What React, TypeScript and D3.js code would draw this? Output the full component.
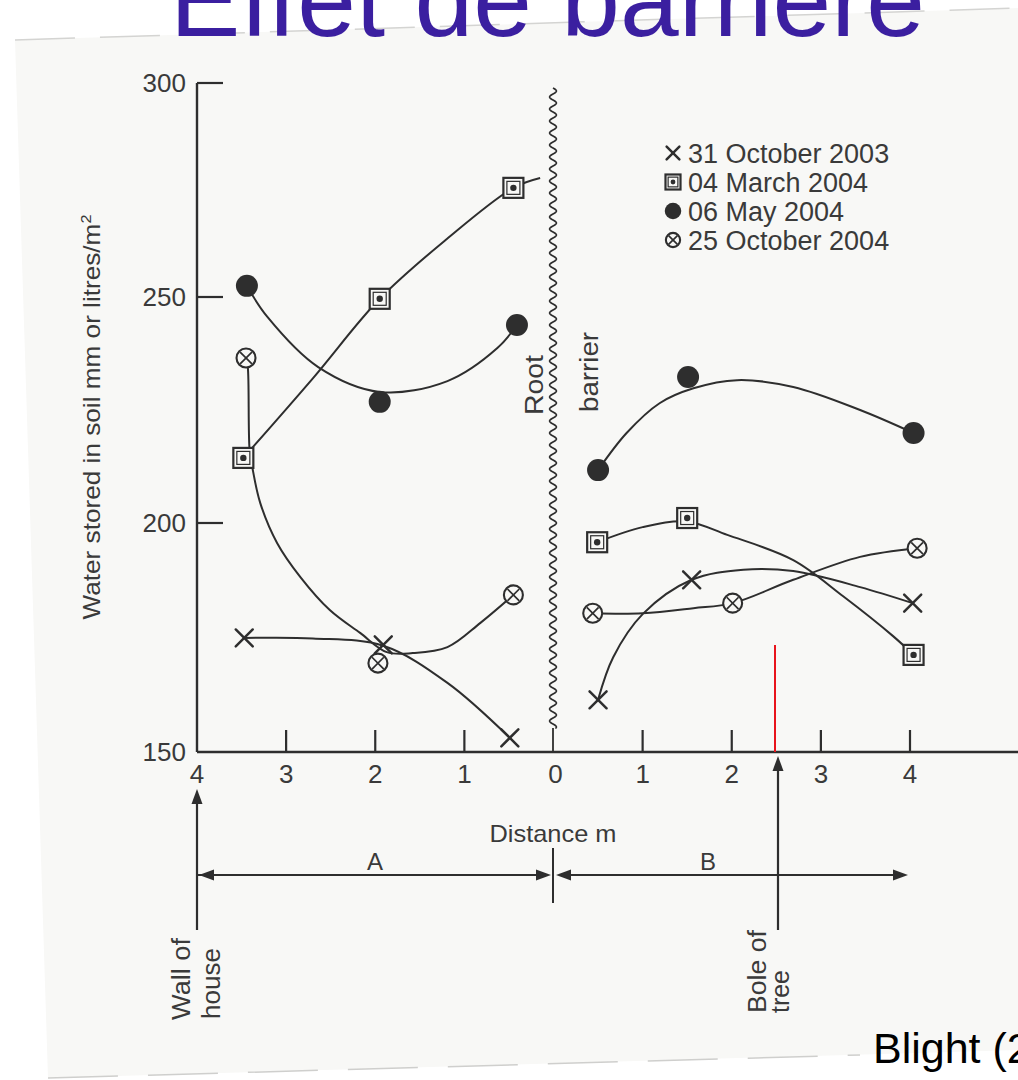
import React from 'react';
import * as d3 from 'd3';

const W = 1018;
const H = 1080;
const PAPER = '#f8f8f6';
const INK = '#2e2e2e';
const TXT = '#3a3a3a';
const FONT = '"Liberation Sans", Arial, sans-serif';

// ---- data ----
const yTicks = [300, 250, 200, 150];
const xTicksA = [4, 3, 2, 1, 0];
const xTicksB = [1, 2, 3, 4];

const legendLabels = ['31 October 2003', '04 March 2004', '06 May 2004', '25 October 2004'];
const legendSymbols = ['cross', 'square', 'circle', 'otimes'];

// measured points: [distance from root barrier (m), water stored (mm)]
const oct2003A = [[3.47, 174.9], [1.91, 173.4], [0.49, 153.1]];
const oct2003B = [[0.5, 161.4], [1.55, 187.6], [4.03, 182.5]];
const mar2004A = [[3.48, 214.4], [1.95, 249.6], [0.45, 275.5]];
const mar2004B = [[0.49, 195.8], [1.5, 201.1], [4.04, 171.2]];
const may2004A = [[3.44, 252.6], [1.95, 226.8], [0.41, 243.8]];
const may2004B = [[0.5, 211.7], [1.51, 232.3], [4.04, 219.9]];
const oct2004A = [[3.45, 236.5], [1.97, 169.4], [0.45, 184.3]];
const oct2004B = [[0.44, 180.3], [2.01, 182.5], [4.08, 194.5]];

// hand-drawn fitted curves
const oct2003AFit = [[3.47, 174.9], [2.7, 174.8], [1.91, 173.2], [1.19, 165.1], [0.49, 153.1]];
const oct2003BFit = [[0.5, 161.4], [0.67, 170.7], [1.0, 180.1], [1.55, 187.6], [2.13, 189.8], [2.69, 189.5], [3.44, 186.0], [4.03, 182.5]];
const mar2004AFit = [[3.48, 214.4], [2.7, 232.0], [1.95, 249.6], [1.2, 263.5], [0.45, 275.5], [0.15, 277.8]];
const mar2004BFit = [[0.49, 195.8], [1.0, 199.1], [1.5, 200.3], [1.95, 197.4], [2.69, 191.9], [3.25, 184.0], [3.81, 175.3], [4.04, 171.2]];
const may2004AFit = [[3.44, 252.6], [3.21, 245.6], [2.64, 234.5], [1.95, 229.0], [1.19, 231.4], [0.63, 238.7], [0.41, 243.8]];
const may2004BFit = [[0.5, 211.7], [0.82, 219.9], [1.19, 226.5], [1.57, 229.8], [2.06, 231.6], [2.69, 230.1], [3.44, 225.0], [4.04, 219.9]];
const oct2004AFit = [[3.45, 236.5], [3.43, 234.5], [3.41, 216.2], [3.38, 212.4], [3.29, 204.4], [3.1, 195.6], [2.84, 188.2], [2.51, 181.0], [2.17, 176.0], [1.87, 171.8], [1.58, 171.6], [1.19, 172.9], [0.82, 178.2], [0.45, 184.3]];
const oct2004BFit = [[0.44, 180.3], [1.0, 180.3], [1.57, 181.4], [2.01, 182.5], [2.69, 187.6], [3.44, 192.6], [4.08, 194.5]];

const seriesDefs = [
  { sym: 'cross', A: oct2003A, B: oct2003B, fitA: oct2003AFit, fitB: oct2003BFit },
  { sym: 'square', A: mar2004A, B: mar2004B, fitA: mar2004AFit, fitB: mar2004BFit },
  { sym: 'circle', A: may2004A, B: may2004B, fitA: may2004AFit, fitB: may2004BFit },
  { sym: 'otimes', A: oct2004A, B: oct2004B, fitA: oct2004AFit, fitB: oct2004BFit },
];

// ---- scales ----
const x = d3.scaleLinear().domain([-4, 4]).range([197, 910]);
const y = d3.scaleLinear().domain([150, 200, 250, 300]).range([752, 523, 297, 83]);

const lineA = d3.line<number[]>().x((d) => x(-d[0])).y((d) => y(d[1])).curve(d3.curveCatmullRom.alpha(0.5));
const lineB = d3.line<number[]>().x((d) => x(d[0])).y((d) => y(d[1])).curve(d3.curveCatmullRom.alpha(0.5));

function Marker({ type, cx, cy, s = 1 }: { type: string; cx: number; cy: number; s?: number }) {
  if (type === 'cross') {
    const a = 8.5 * s;
    return (
      <g stroke={INK} strokeWidth={2.5} strokeLinecap="round">
        <line x1={cx - a} y1={cy - a} x2={cx + a} y2={cy + a} />
        <line x1={cx - a} y1={cy + a} x2={cx + a} y2={cy - a} />
      </g>
    );
  }
  if (type === 'square') {
    const a = 10 * s;
    const b = 6.5 * s;
    return (
      <g>
        <rect x={cx - a} y={cy - a} width={2 * a} height={2 * a} fill={PAPER} stroke={INK} strokeWidth={2.2} />
        <rect x={cx - b} y={cy - b} width={2 * b} height={2 * b} fill="none" stroke={INK} strokeWidth={1.2} />
        <circle cx={cx} cy={cy} r={3.2 * s} fill={INK} />
      </g>
    );
  }
  if (type === 'circle') {
    return <circle cx={cx} cy={cy} r={11 * s} fill={INK} />;
  }
  const r = 9.5 * s;
  const k = r * 0.62;
  return (
    <g stroke={INK}>
      <circle cx={cx} cy={cy} r={r} fill={PAPER} strokeWidth={2.1} />
      <line x1={cx - k} y1={cy - k} x2={cx + k} y2={cy + k} strokeWidth={1.7} />
      <line x1={cx - k} y1={cy + k} x2={cx + k} y2={cy - k} strokeWidth={1.7} />
    </g>
  );
}

function Arrow({ tx, ty, dir }: { tx: number; ty: number; dir: 'up' | 'left' | 'right' }) {
  const L = 15;
  const h = 5.5;
  let pts: number[][] = [];
  if (dir === 'up') pts = [[tx, ty], [tx - h, ty + L], [tx + h, ty + L]];
  if (dir === 'left') pts = [[tx, ty], [tx + L, ty - h], [tx + L, ty + h]];
  if (dir === 'right') pts = [[tx, ty], [tx - L, ty - h], [tx - L, ty + h]];
  return <polygon points={pts.map((p) => p.join(',')).join(' ')} fill={INK} />;
}

export default function App() {
  const barrierX = x(0) - 0.5;
  const wavePts: number[][] = d3.range(88, 729, 0.5).map((yy) => [barrierX + 3.4 * Math.sin((2 * Math.PI * (yy - 88)) / 12), yy]);
  const wave = d3.line<number[]>().x((d) => d[0]).y((d) => d[1])(wavePts) || '';

  const y0 = y(150);
  const tickTextStyle = { fontFamily: FONT, fontSize: 26, fill: TXT };

  return (
    <svg width={W} height={H} viewBox={`0 0 ${W} ${H}`} style={{ position: 'absolute', left: 0, top: 0, background: '#ffffff' }}>
      {/* scanned page */}
      <polygon points="15,40 1018,8 1018,1050 48,1078" fill={PAPER} />
      <line x1={15} y1={40} x2={1018} y2={8} stroke="#d4d4d2" strokeWidth={1.5} strokeDasharray="60 25" />
      <line x1={48} y1={1078} x2={860} y2={1055} stroke="#cfcfcd" strokeWidth={1.5} strokeDasharray="70 30" />

      {/* slide title (cut at top) */}
      <text x={170} y={36} fontFamily={FONT} fontSize={105} fill="#3b1fa0" textLength={755} lengthAdjust="spacingAndGlyphs">
        Effet de barrière
      </text>

      {/* axes */}
      <line x1={x(-4)} y1={y(300)} x2={x(-4)} y2={y0} stroke={INK} strokeWidth={2.4} />
      <line x1={x(-4)} y1={y0} x2={W} y2={y0} stroke={INK} strokeWidth={2.4} />
      {yTicks.filter((t) => t !== 150).map((t) => (
        <line key={'yt' + t} x1={x(-4)} y1={y(t)} x2={x(-4) + 26} y2={y(t)} stroke={INK} strokeWidth={2.2} />
      ))}
      {yTicks.map((t) => (
        <text key={'yl' + t} x={186} y={y(t) + 9} textAnchor="end" {...tickTextStyle}>
          {t}
        </text>
      ))}
      {xTicksA.filter((t) => t !== 4 && t !== 0).map((t) => (
        <line key={'xa' + t} x1={x(-t)} y1={y0} x2={x(-t)} y2={y0 - 22} stroke={INK} strokeWidth={2.2} />
      ))}
      {xTicksB.map((t) => (
        <line key={'xb' + t} x1={x(t)} y1={y0} x2={x(t)} y2={y0 - 22} stroke={INK} strokeWidth={2.2} />
      ))}
      {xTicksA.map((t) => (
        <text key={'xla' + t} x={x(-t) + (t === 0 ? 2 : 0)} y={783} textAnchor="middle" {...tickTextStyle}>
          {t}
        </text>
      ))}
      {xTicksB.map((t) => (
        <text key={'xlb' + t} x={x(t)} y={783} textAnchor="middle" {...tickTextStyle}>
          {t}
        </text>
      ))}

      {/* y axis title */}
      <text transform={`translate(100,417) rotate(-90)`} textAnchor="middle" fontFamily={FONT} fontSize={24} fill={TXT} textLength={405} lengthAdjust="spacingAndGlyphs">
        Water stored in  soil mm or litres/m<tspan fontSize={15} dy={-9}>2</tspan>
      </text>

      {/* root barrier */}
      <path d={wave} fill="none" stroke={INK} strokeWidth={1.7} />
      <line x1={barrierX} y1={728} x2={barrierX} y2={y0} stroke={INK} strokeWidth={1.8} />
      <text transform={`translate(543,415) rotate(-90)`} fontFamily={FONT} fontSize={26} fill={TXT} textLength={60} lengthAdjust="spacingAndGlyphs">
        Root
      </text>
      <text transform={`translate(598,412) rotate(-90)`} fontFamily={FONT} fontSize={26} fill={TXT} textLength={80} lengthAdjust="spacingAndGlyphs">
        barrier
      </text>

      {/* fitted curves */}
      {seriesDefs.map((s, i) => (
        <g key={'fit' + i} fill="none" stroke={INK} strokeWidth={2}>
          <path d={lineA(s.fitA) || ''} />
          <path d={lineB(s.fitB) || ''} />
        </g>
      ))}
      {/* markers */}
      {seriesDefs.map((s, i) => (
        <g key={'mk' + i}>
          {s.A.map((d, j) => (
            <Marker key={'a' + j} type={s.sym} cx={x(-d[0])} cy={y(d[1])} />
          ))}
          {s.B.map((d, j) => (
            <Marker key={'b' + j} type={s.sym} cx={x(d[0])} cy={y(d[1])} />
          ))}
        </g>
      ))}

      {/* legend */}
      {legendLabels.map((lab, i) => (
        <g key={'lg' + i}>
          <Marker type={legendSymbols[i]} cx={673} cy={153 + i * 29} s={0.75} />
          <text x={688} y={153 + i * 29 + 9.5} fontFamily={FONT} fontSize={27} fill={TXT}>
            {lab}
          </text>
        </g>
      ))}

      {/* red marker line */}
      <line x1={775} y1={645} x2={775} y2={y0} stroke="#e8141c" strokeWidth={2} />

      {/* bottom annotations */}
      <text x={553} y={842} textAnchor="middle" fontFamily={FONT} fontSize={24} fill={TXT} textLength={127} lengthAdjust="spacingAndGlyphs">
        Distance m
      </text>
      <line x1={x(-4)} y1={800} x2={x(-4)} y2={930} stroke={INK} strokeWidth={2.2} />
      <Arrow tx={x(-4)} ty={789} dir="up" />
      <line x1={x(-4)} y1={875} x2={545} y2={875} stroke={INK} strokeWidth={2.2} />
      <Arrow tx={x(-4) + 2} ty={875} dir="left" />
      <Arrow tx={551} ty={875} dir="right" />
      <line x1={553} y1={848} x2={553} y2={903} stroke={INK} strokeWidth={2} />
      <line x1={562} y1={875} x2={900} y2={875} stroke={INK} strokeWidth={2.2} />
      <Arrow tx={556} ty={875} dir="left" />
      <Arrow tx={908} ty={875} dir="right" />
      <text x={375} y={870} textAnchor="middle" fontFamily={FONT} fontSize={24} fill={TXT}>A</text>
      <text x={708} y={870} textAnchor="middle" fontFamily={FONT} fontSize={24} fill={TXT}>B</text>
      <line x1={778} y1={768} x2={778} y2={930} stroke={INK} strokeWidth={2.2} />
      <Arrow tx={778} ty={756} dir="up" />

      <text transform={`translate(190,1020) rotate(-90)`} fontFamily={FONT} fontSize={26} fill={TXT} textLength={82} lengthAdjust="spacingAndGlyphs">Wall of</text>
      <text transform={`translate(220,1019) rotate(-90)`} fontFamily={FONT} fontSize={26} fill={TXT} textLength={71} lengthAdjust="spacingAndGlyphs">house</text>
      <text transform={`translate(766,1013) rotate(-90)`} fontFamily={FONT} fontSize={26} fill={TXT} textLength={83} lengthAdjust="spacingAndGlyphs">Bole of</text>
      <text transform={`translate(789,1013) rotate(-90)`} fontFamily={FONT} fontSize={26} fill={TXT} textLength={43} lengthAdjust="spacingAndGlyphs">tree</text>

      {/* citation */}
      <text x={873} y={1063} fontFamily={FONT} fontSize={43} fill="#000000">Blight (2008)</text>
    </svg>
  );
}
